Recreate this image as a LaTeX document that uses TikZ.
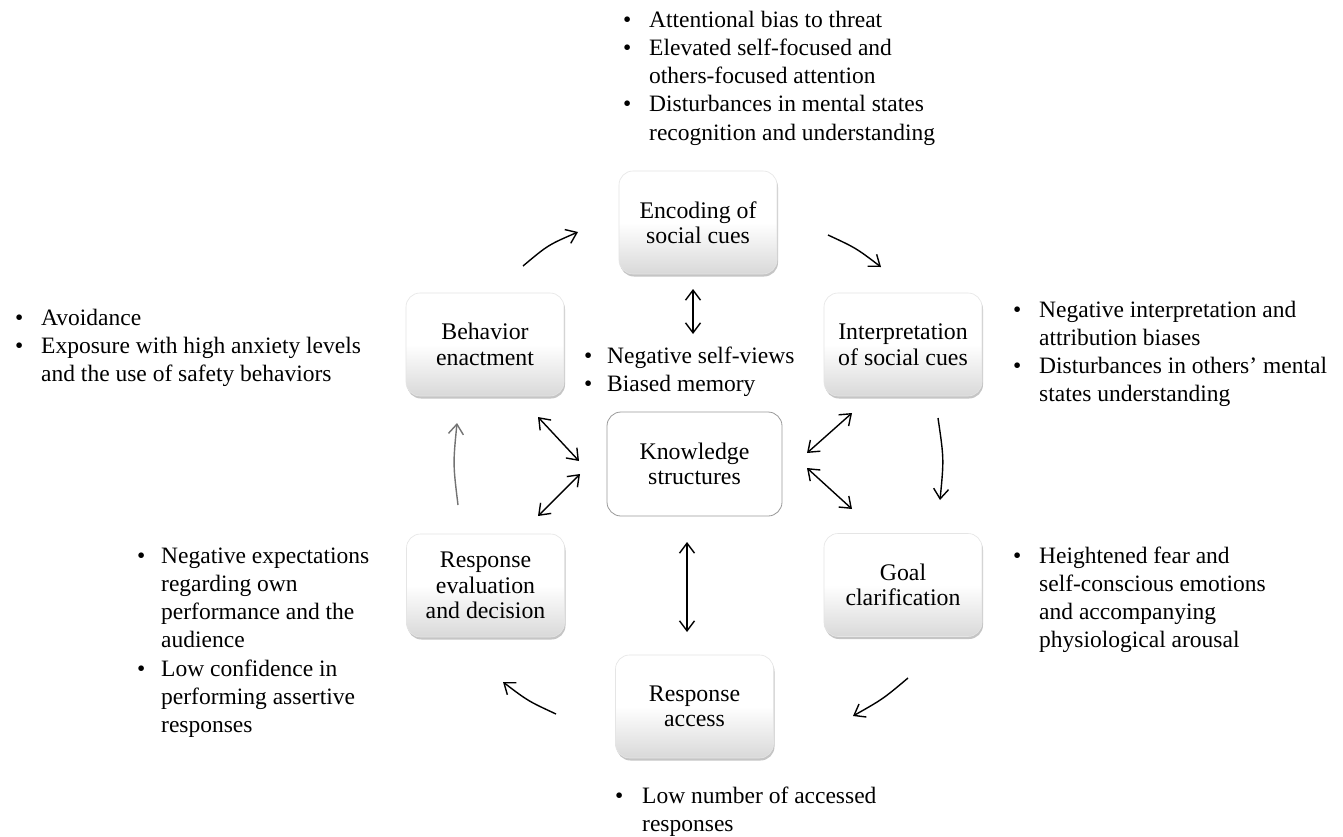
\documentclass[tikz,border=0pt]{standalone}
\usepackage{fontspec}
\setmainfont{Liberation Serif}
\usetikzlibrary{arrows.meta,shadows}
\newcommand\boxfont{\fontsize{23.8}{25.5}\selectfont}
\newcommand\notefont{\fontsize{23.5}{28.3}\selectfont}
\newcommand\myitem[2][26pt]{\par\hangindent=#1\hangafter=1\noindent\makebox[#1][l]{\textbullet}#2\par}
\newcommand\notebox[1]{\begin{minipage}[t]{420pt}\raggedright\let\\\newline\notefont #1\end{minipage}}
\tikzset{
  box/.style={rounded corners=14pt, minimum width=158pt, minimum height=103pt,
    align=center, inner sep=0pt, font=\boxfont, draw=black!10, line width=0.6pt,
    top color=white, bottom color=black!15, middle color=white,
    drop shadow={opacity=0.45, shadow xshift=1pt, shadow yshift=-2.5pt}},
  kbox/.style={rounded corners=14pt, minimum width=175pt, minimum height=104pt,
    align=center, inner sep=0pt, font=\boxfont, draw=black!40, line width=0.8pt, fill=white},
  flow/.style={line width=1.4pt, -{Straight Barb[length=10pt,width=15pt]}},
  grayflow/.style={flow, draw=black!55},
  both/.style={line width=1.4pt, {Straight Barb[length=10pt,width=15pt]}-{Straight Barb[length=10pt,width=15pt]}},
  note/.style={anchor=base west, inner sep=0pt},
}
\begin{document}
\begin{tikzpicture}[x=1pt,y=-1pt]
\useasboundingbox[fill=white] (0,0) rectangle (1343,836);

% boxes
\node[box] (enc) at (698,222.5) {Encoding of\\social cues};
\node[box] (beh) at (485,344.5) {Behavior\\enactment};
\node[box] (int) at (903,344.5) {Interpretation\\of social cues};
\node[kbox] (kno) at (694.5,464) {Knowledge\\structures};
\node[box] (goal) at (903,585) {Goal\\clarification};
\node[box] (eval) at (485.5,585.5) {Response\\evaluation\\and decision};
\node[box] (acc) at (694.5,706.5) {Response\\access};

% notes
\node[note] (nenc) at (623,27) {\notebox{\myitem{Attentional bias to threat}\myitem{Elevated self-focused and\\others-focused attention}\myitem{Disturbances in mental states\\recognition and understanding}}};
\node[note] (nbeh) at (15,325) {\notebox{\myitem{Avoidance}\myitem{Exposure with high anxiety levels\\and the use of safety behaviors}}};
\node[note] (nint) at (1013,317) {\notebox{\myitem{Negative interpretation and\\attribution biases}\myitem{Disturbances in others’ mental\\states understanding}}};
\node[note] (nkno) at (584,363) {\notebox{\myitem[23pt]{Negative self-views}\myitem[23pt]{Biased memory}}};
\node[note] (ngoal) at (1013,563) {\notebox{\myitem{Heightened fear and\\self-conscious emotions\\and accompanying\\physiological arousal}}};
\node[note] (neval) at (137,563) {\notebox{\myitem[24pt]{Negative expectations\\regarding own\\performance and the\\audience}\myitem[24pt]{Low confidence in\\performing assertive\\responses}}};
\node[note] (nacc) at (615,803) {\notebox{\myitem[27pt]{Low number of accessed\\responses}}};

% cycle arrow end points
\coordinate (c1s) at (523,266); \coordinate (c1e) at (578,232);
\coordinate (c2s) at (828,235); \coordinate (c2e) at (881,267);
\coordinate (c3s) at (938,418); \coordinate (c3e) at (940,500);
\coordinate (c4s) at (908,678); \coordinate (c4e) at (853,716);
\coordinate (c5s) at (556,714); \coordinate (c5e) at (503,682);
\coordinate (c6s) at (458,505); \coordinate (c6e) at (457,423);

\draw[flow] (c1s) .. controls (548,245) .. (c1e);
\draw[flow] (c2s) .. controls (856,248) .. (c2e);
\draw[flow] (c3s) .. controls (944,459) .. (c3e);
\draw[flow] (c4s) .. controls (883,699) .. (c4e);
\draw[flow] (c5s) .. controls (528,701) .. (c5e);
\draw[grayflow] (c6s) .. controls (453,464) .. (c6e);

% knowledge links
\coordinate (d1a) at (693,289); \coordinate (d1b) at (693,334);
\coordinate (d2a) at (538,417); \coordinate (d2b) at (579,461);
\coordinate (d3a) at (580,474); \coordinate (d3b) at (538,516);
\coordinate (d4a) at (852,413); \coordinate (d4b) at (807,453);
\coordinate (d5a) at (807,468); \coordinate (d5b) at (852,509);
\coordinate (d6a) at (687,542); \coordinate (d6b) at (687,632);
\draw[both] (d1a) -- (d1b);
\draw[both] (d2a) -- (d2b);
\draw[both] (d3a) -- (d3b);
\draw[both] (d4a) -- (d4b);
\draw[both] (d5a) -- (d5b);
\draw[both] (d6a) -- (d6b);
\end{tikzpicture}
\end{document}
